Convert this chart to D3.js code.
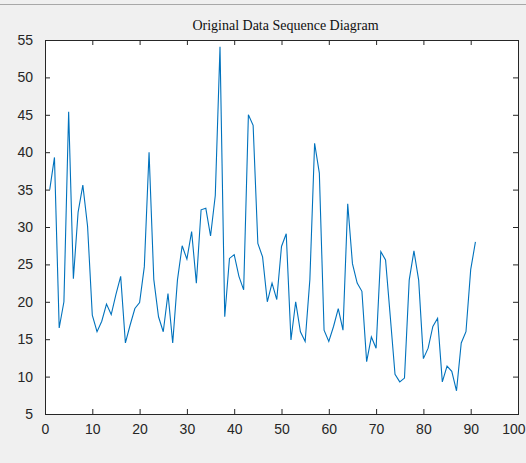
<!DOCTYPE html>
<html>
<head>
<meta charset="utf-8">
<script src="https://cdn.jsdelivr.net/npm/d3@7"></script>
<style>
  html, body { margin: 0; padding: 0; background: #f0f0f0; }
  svg { display: block; }
</style>
</head>
<body>
<div id="chart"></div>
<script>
// sample values, index 1..91
var values = [35.0, 39.3, 16.5, 20.0, 45.4, 23.1, 32.0, 35.6, 30.1, 18.2,
  16.0, 17.4, 19.7, 18.3, 21.0, 23.4, 14.5, 16.9, 19.1, 19.9,
  24.7, 40.0, 23.0, 18.0, 16.0, 21.1, 14.5, 22.9, 27.5, 25.7,
  29.4, 22.5, 32.3, 32.5, 28.8, 34.2, 54.1, 18.0, 25.8, 26.3,
  23.4, 21.6, 45.0, 43.6, 27.8, 26.0, 20.0, 22.5, 20.3, 27.4,
  29.1, 14.9, 20.0, 16.0, 14.7, 23.0, 41.2, 37.2, 16.2, 14.7,
  16.7, 19.1, 16.2, 33.1, 25.1, 22.5, 21.4, 12.0, 15.3, 13.8,
  26.7, 25.6, 18.0, 10.3, 9.3, 9.8, 22.9, 26.8, 22.9, 12.4,
  13.8, 16.7, 17.8, 9.3, 11.4, 10.7, 8.1, 14.5, 16.0, 24.3, 28.0];
var xTicks = [0, 10, 20, 30, 40, 50, 60, 70, 80, 90, 100];
var yTicks = [5, 10, 15, 20, 25, 30, 35, 40, 45, 50, 55];
var title = 'Original Data Sequence Diagram';

var width = 526, height = 463;
var margin = {top: 40, right: 8, bottom: 49, left: 45};
var innerW = width - margin.left - margin.right;
var innerH = height - margin.top - margin.bottom;

var svg = d3.select('#chart').append('svg')
  .attr('width', width)
  .attr('height', height);

// window frame line at top
svg.append('line')
  .attr('x1', 0).attr('x2', width)
  .attr('y1', 4.5).attr('y2', 4.5)
  .style('stroke', '#a8a8a8');

var x = d3.scaleLinear().domain([0, 100]).range([0, innerW]);
var y = d3.scaleLinear().domain([5, 55]).range([innerH, 0]);

var g = svg.append('g')
  .attr('transform', 'translate(' + margin.left + ',' + margin.top + ')');

g.append('rect')
  .attr('width', innerW)
  .attr('height', innerH)
  .style('fill', '#fff');

// data line
var line = d3.line()
  .x(function(d, i) { return x(i + 1); })
  .y(function(d) { return y(d); });

g.append('path')
  .datum(values)
  .attr('d', line)
  .style('fill', 'none')
  .style('stroke', '#0072bd')
  .style('stroke-width', 1.1);

// axes, ticks pointing inward on all four sides
function styleAxis(sel) {
  sel.select('.domain').remove();
  sel.selectAll('line').style('stroke', '#262626');
  sel.selectAll('text')
    .style('font-family', '"Liberation Sans", Arial, sans-serif')
    .style('font-size', '14px')
    .style('fill', '#262626');
}

var xAxis = g.append('g')
  .attr('transform', 'translate(0,' + innerH + ')')
  .call(d3.axisBottom(x).tickValues(xTicks).tickSizeInner(-5).tickPadding(10))
  .call(styleAxis);

// last label would run past the window edge, pin it inside
xAxis.selectAll('.tick text')
  .filter(function(d) { return d === 100; })
  .attr('text-anchor', 'end')
  .attr('x', margin.right - 1);

g.append('g')
  .call(d3.axisTop(x).tickValues(xTicks).tickSizeInner(-5).tickFormat(''))
  .call(styleAxis);

g.append('g')
  .call(d3.axisLeft(y).tickValues(yTicks).tickSizeInner(-5).tickPadding(12))
  .call(styleAxis);

g.append('g')
  .attr('transform', 'translate(' + innerW + ',0)')
  .call(d3.axisRight(y).tickValues(yTicks).tickSizeInner(-5).tickFormat(''))
  .call(styleAxis);

g.append('rect')
  .attr('x', 0.5).attr('y', 0.5)
  .attr('width', innerW).attr('height', innerH)
  .style('fill', 'none')
  .style('stroke', '#262626');

svg.append('text')
  .attr('x', margin.left + innerW / 2 + 4)
  .attr('y', 30)
  .attr('text-anchor', 'middle')
  .style('font-family', '"Liberation Serif", "Times New Roman", serif')
  .style('font-size', '14px')
  .style('fill', '#111')
  .text(title);
</script>
</body>
</html>
